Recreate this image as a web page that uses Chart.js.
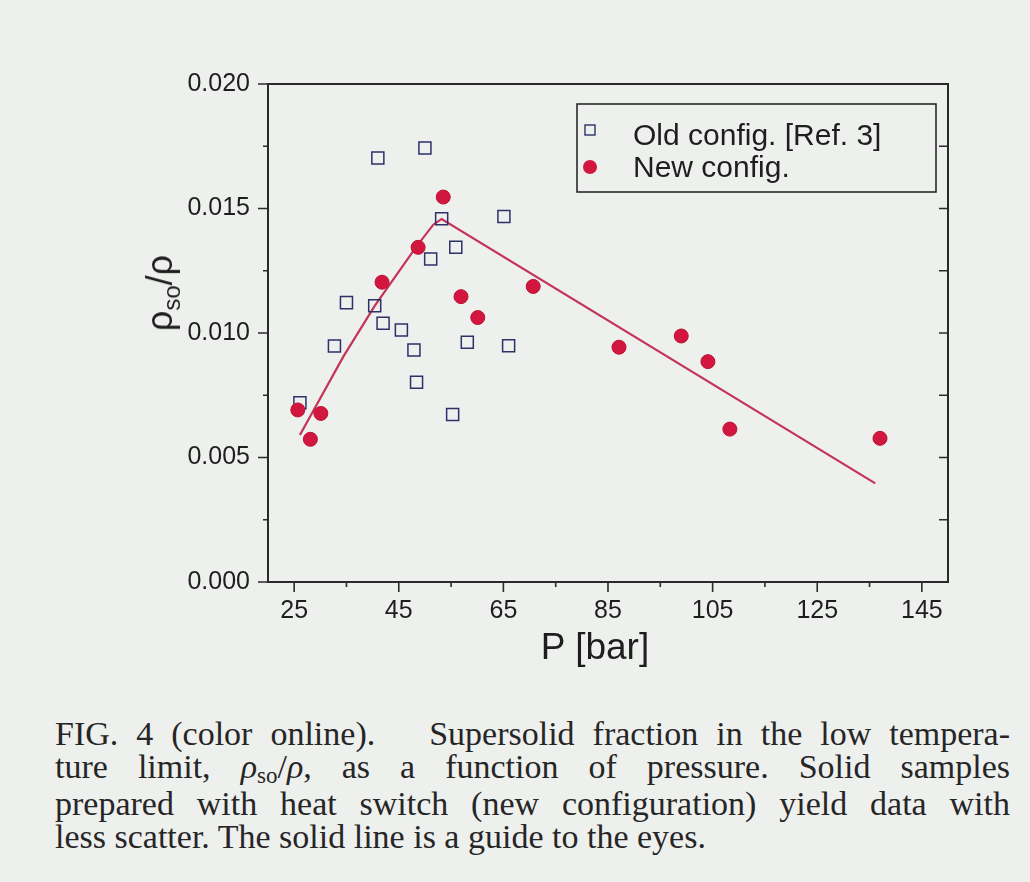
<!DOCTYPE html>
<html>
<head>
<meta charset="utf-8">
<script src="https://cdn.jsdelivr.net/npm/chart.js@4/dist/chart.umd.min.js"></script>
<style>
    html, body { margin: 0; padding: 0; background: #eef0ee; }
    body { width: 1030px; height: 882px; position: relative; overflow: hidden; }
    #chart-box { position: absolute; left: 0; top: 0; width: 1030px; height: 690px; }
    .axis-title { position: absolute; font-family: "Liberation Sans", Arial, sans-serif; color: #1e1e1e; white-space: nowrap; }
    #x-title { left: 595px; top: 660px; font-size: 37px; transform: translate(-50%, -80%); }
    #y-title { left: 160px; top: 293px; width: 0; height: 0; }
    #y-title span.inner { position: absolute; font-size: 36px; transform: translate(-50%, -50%) rotate(-90deg); }
    .axis-title sub { font-size: 24px; vertical-align: 0; position: relative; top: 8px; }
    #caption { position: absolute; left: 55px; top: 717px; width: 955px;
        font-family: "Liberation Serif", "Times New Roman", serif; font-size: 34px; line-height: 33px; color: #262626; }
    #caption .line { text-align: justify; text-align-last: justify; white-space: nowrap; }
    #caption .line.last { text-align: left; text-align-last: left; }
    #caption sub { font-size: 23px; vertical-align: 0; position: relative; top: 5px; }
</style>
</head>
<body>
<div id="chart-box"><canvas id="fig4"></canvas></div>
<div id="x-title" class="axis-title">P [bar]</div>
<div id="y-title" class="axis-title"><span class="inner">ρ<sub>so</sub>/ρ</span></div>
<div id="caption">
    <div class="line">FIG. 4 (color online). &nbsp; Supersolid fraction in the low tempera-</div>
    <div class="line">ture limit, <i>ρ</i><sub>so</sub>/<i>ρ</i>, as a function of pressure. Solid samples</div>
    <div class="line">prepared with heat switch (new configuration) yield data with</div>
    <div class="line last">less scatter. The solid line is a guide to the eyes.</div>
</div>
<script>
// Old configuration [Ref. 3] (open squares)
const oldP = [26.1, 32.7, 35.0, 40.4, 41.0, 42.0, 45.5, 47.9, 48.4, 50.0, 51.1, 53.2, 55.3, 55.9, 58.1, 65.1, 66.0];
const oldFrac = [0.0072, 0.00948, 0.01122, 0.01109, 0.01703, 0.01039, 0.01012, 0.00932, 0.00802, 0.01743,
    0.01297, 0.01459, 0.00673, 0.01344, 0.00963, 0.01468, 0.00949];

// New configuration (filled circles)
const newP = [25.7, 28.1, 30.1, 41.8, 48.7, 53.5, 56.9, 60.1, 70.7, 87.1, 99.0, 104.1, 108.3, 137.0];
const newFrac = [0.00691, 0.00573, 0.00677, 0.01204, 0.01344, 0.01546, 0.01146, 0.01062, 0.01187,
    0.00943, 0.00988, 0.00885, 0.00614, 0.00577];

// Guide to the eyes
const guideP = [26.1, 34.4, 40.4, 48.4, 51.6, 53.2, 136.1];
const guideFrac = [0.0059, 0.00905, 0.01109, 0.01348, 0.01435, 0.01458, 0.00396];

// Axis ticks (major ones get labels)
const xTicks = [25, 35, 45, 55, 65, 75, 85, 95, 105, 115, 125, 135, 145];
const xLabels = [25, 45, 65, 85, 105, 125, 145];
const yTicks = [0, 0.0025, 0.005, 0.0075, 0.01, 0.0125, 0.015, 0.0175, 0.02];
const yLabels = [0, 0.005, 0.01, 0.015, 0.02];

const legendItems = ['Old config. [Ref. 3]', 'New config.'];

const INK = '#1e1e1e';
const SQUARE_COLOR = '#2c3168';
const DOT_COLOR = '#d3163f';
const LINE_COLOR = '#c43358';

const toPoints = (xs, ys) => xs.map((x, i) => ({ x, y: ys[i] }));
const isLabelled = (list, v) => list.some(l => Math.abs(l - v) < 1e-9);

// Frame with outward ticks on left/bottom and inward ticks on the right
const framePlugin = {
    id: 'frame',
    afterDatasetsDraw(chart) {
        const { ctx, chartArea: a, scales } = chart;
        ctx.save();
        ctx.strokeStyle = '#2a2a2a';
        ctx.lineWidth = 2;
        ctx.strokeRect(a.left, a.top, a.right - a.left, a.bottom - a.top);
        ctx.lineWidth = 1.6;
        ctx.beginPath();
        xTicks.forEach(v => {
            const px = scales.x.getPixelForValue(v);
            const len = isLabelled(xLabels, v) ? 10 : 5;
            ctx.moveTo(px, a.bottom);
            ctx.lineTo(px, a.bottom + len);
        });
        yTicks.forEach(v => {
            const py = scales.y.getPixelForValue(v);
            const len = isLabelled(yLabels, v) ? 10 : 5;
            ctx.moveTo(a.left, py);
            ctx.lineTo(a.left - len, py);
            if (v > 0 && v < 0.02) {
                ctx.moveTo(a.right, py);
                ctx.lineTo(a.right - 9, py);
            }
        });
        ctx.stroke();
        ctx.restore();
    }
};

// Legend box drawn inside the plot, upper right
const insideLegend = {
    id: 'insideLegend',
    afterDraw(chart) {
        const { ctx, chartArea: a } = chart;
        const box = { left: a.right - 371, top: a.top + 20, width: 359, height: 88 };
        ctx.save();
        ctx.fillStyle = '#eef0ee';
        ctx.fillRect(box.left, box.top, box.width, box.height);
        ctx.strokeStyle = '#2a2a2a';
        ctx.lineWidth = 1.6;
        ctx.strokeRect(box.left, box.top, box.width, box.height);

        const mx = box.left + 13;
        const rows = [box.top + 26, box.top + 63];
        // square marker
        ctx.strokeStyle = SQUARE_COLOR;
        ctx.lineWidth = 1.4;
        ctx.strokeRect(mx - 5, rows[0] - 5, 10, 10);
        // circle marker
        ctx.beginPath();
        ctx.arc(mx, rows[1], 7, 0, Math.PI * 2);
        ctx.fillStyle = DOT_COLOR;
        ctx.fill();

        ctx.fillStyle = INK;
        ctx.font = '30px "Liberation Sans", Arial, sans-serif';
        ctx.textBaseline = 'alphabetic';
        ctx.fillText(legendItems[0], box.left + 56, box.top + 41);
        ctx.fillText(legendItems[1], box.left + 56, box.top + 73);
        ctx.restore();
    }
};

new Chart(document.getElementById('fig4'), {
    type: 'scatter',
    data: {
        datasets: [
            {
                label: legendItems[1],
                data: toPoints(newP, newFrac),
                pointStyle: 'circle',
                pointRadius: 7,
                pointBackgroundColor: DOT_COLOR,
                pointBorderColor: '#b8122f',
                pointBorderWidth: 1
            },
            {
                label: legendItems[0],
                data: toPoints(oldP, oldFrac),
                pointStyle: 'rect',
                pointRadius: 8.5,
                pointBackgroundColor: 'rgba(0,0,0,0)',
                pointBorderColor: SQUARE_COLOR,
                pointBorderWidth: 1.5
            },
            {
                label: 'guide',
                data: toPoints(guideP, guideFrac),
                showLine: true,
                borderColor: LINE_COLOR,
                borderWidth: 2.2,
                pointRadius: 0,
                tension: 0
            }
        ]
    },
    options: {
        responsive: true,
        maintainAspectRatio: false,
        animation: false,
        layout: { padding: { top: 84, right: 82, left: 0, bottom: 0 } },
        plugins: {
            legend: { display: false },
            tooltip: { enabled: false }
        },
        scales: {
            x: {
                type: 'linear',
                min: 20,
                max: 150,
                afterFit: scale => { scale.height = 108; },
                afterBuildTicks: scale => { scale.ticks = xTicks.map(v => ({ value: v })); },
                grid: { display: false, drawTicks: false },
                border: { display: false },
                ticks: {
                    autoSkip: false,
                    maxRotation: 0,
                    padding: 14,
                    color: INK,
                    font: { family: '"Liberation Sans", Arial, sans-serif', size: 25 },
                    callback: v => (isLabelled(xLabels, v) ? String(v) : '')
                }
            },
            y: {
                type: 'linear',
                min: 0,
                max: 0.02,
                afterFit: scale => { scale.width = 268; },
                afterBuildTicks: scale => { scale.ticks = yTicks.map(v => ({ value: v })); },
                grid: { display: false, drawTicks: false },
                border: { display: false },
                ticks: {
                    autoSkip: false,
                    padding: 18,
                    color: INK,
                    font: { family: '"Liberation Sans", Arial, sans-serif', size: 25 },
                    callback: v => (isLabelled(yLabels, v) ? v.toFixed(3) : '')
                }
            }
        }
    },
    plugins: [framePlugin, insideLegend]
});
</script>
</body>
</html>
